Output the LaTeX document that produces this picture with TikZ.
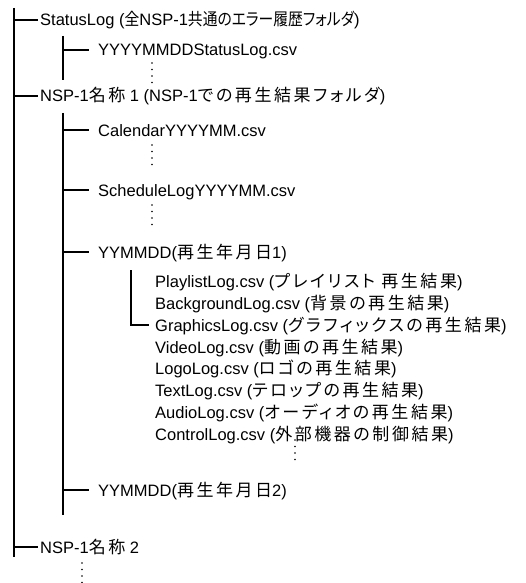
\documentclass[tikz,border=0pt]{standalone}
\usepackage{fontspec}
\setmainfont{Liberation Sans}
\newfontfamily\cjk[LetterSpace=15,RawFeature=+palt]{Noto Sans CJK JP}
\newfontfamily\cjkt[RawFeature=+palt,FakeStretch=0.87]{Noto Sans CJK JP}
\newcommand\J[1]{{\fontsize{17}{19}\cjk #1}}
\newcommand\JT[1]{{\fontsize{17}{19}\cjkt #1}}
\begin{document}
\begin{tikzpicture}[x=1pt,y=-1pt,
  tree/.style={line width=1.8pt},
  lbl/.style={anchor=west,inner ysep=0pt,text height=12pt,text depth=0pt,font=\fontsize{16.5}{19}\selectfont},
  l1/.style={lbl,inner xsep=2pt},
  l2/.style={lbl,inner xsep=9pt},
  l3/.style={lbl,inner xsep=0pt}]
\useasboundingbox (0,0) rectangle (526,583);
\newcommand\dotcol[2]{\foreach \k in {0,1,2,3}{\fill (#1,#2+6.5*\k) circle (0.9pt);}}
% level 1
\node[l1] (sl) at (38,20) {StatusLog (\JT{全}NSP-1\JT{共通のエラー履歴フォルダ})};
\node[l1] (n1) at (38,96) {NSP-1\J{名称} 1 (NSP-1\J{での再生結果フォルダ})};
\node[l1] (n2) at (38,547) {NSP-1\J{名称} 2};
% level 2
\node[l2] (ys) at (89,50) {YYYYMMDDStatusLog.csv};
\node[l2] (cal) at (89,130) {CalendarYYYYMM.csv};
\node[l2] (sch) at (89,190) {ScheduleLogYYYYMM.csv};
\node[l2] (d1) at (89,252) {YYMMDD(\J{再生年月日}1)};
\node[l2] (d2) at (89,490) {YYMMDD(\J{再生年月日}2)};
% level 3
\node[l3] (pl) at (155,281) {PlaylistLog.csv (\J{プレイリスト 再生結果})};
\node[l3] (bg) at (155,303) {BackgroundLog.csv (\J{背景の再生結果})};
\node[l3] (gr) at (155,325) {GraphicsLog.csv (\J{グラフィックスの再生結果})};
\node[l3] (vi) at (155,347) {VideoLog.csv (\J{動画の再生結果})};
\node[l3] (lo) at (155,368) {LogoLog.csv (\J{ロゴの再生結果})};
\node[l3] (tx) at (155,390) {TextLog.csv (\J{テロップの再生結果})};
\node[l3] (au) at (155,412) {AudioLog.csv (\J{オーディオの再生結果})};
\node[l3] (co) at (155,434) {ControlLog.csv (\J{外部機器の制御結果})};
% trunk
\coordinate (r0) at (14,8);
\coordinate (r1) at (14,557);
\draw[tree] (r0) -- (r1);
\draw[tree] (r0 |- sl.west) -- (sl.west);
\draw[tree] (r0 |- n1.west) -- (n1.west);
\draw[tree] (r0 |- n2.west) -- (n2.west);
% StatusLog subtree
\coordinate (a0) at (63,36);
\coordinate (a1) at (63,80);
\draw[tree] (a0) -- (a1);
\draw[tree] (a0 |- ys.west) -- (ys.west);
% NSP-1 1 subtree
\coordinate (b0) at (63,113);
\coordinate (b1) at (63,515);
\draw[tree] (b0) -- (b1);
\draw[tree] (b0 |- cal.west) -- (cal.west);
\draw[tree] (b0 |- sch.west) -- (sch.west);
\draw[tree] (b0 |- d1.west) -- (d1.west);
\draw[tree] (b0 |- d2.west) -- (d2.west);
% day folder bracket
\coordinate (c0) at (131,270);
\draw[tree] (c0) -- (c0 |- gr.west) -- ([xshift=-6pt]gr.west);
% ellipses
\dotcol{152}{63}
\dotcol{152}{145}
\dotcol{152}{205}
\dotcol{295}{440}
\dotcol{82}{563}
\end{tikzpicture}
\end{document}
